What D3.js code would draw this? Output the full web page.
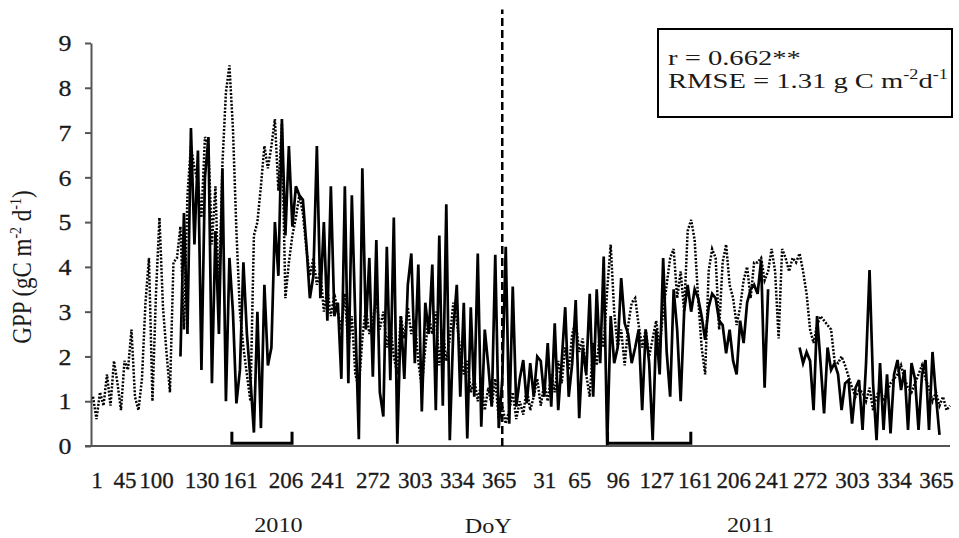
<!DOCTYPE html>
<html>
    <head>
        <title>GPP 2010-2011</title>
        <script src="https://d3js.org/d3.v7.min.js"></script>
        <style>
            body {
                margin: 0;
                background: white;
            }
            #myCanvas {
                display: block;
                background-color: white;
            }
            text {
                font-family: "Liberation Serif", "Times New Roman", serif;
                fill: #1a1a1a;
            }
        </style>
    </head>
    <body>
        <svg id="myCanvas" width="959" height="538"></svg>

        <script>
            // day-of-year labels and the record position they sit on
            var dayLabels = ["1", "45", "100", "130", "161", "206", "241", "272", "303", "334", "365",
                             "31", "65", "96", "127", "161", "206", "241", "272", "303", "334", "365"];
            var labelPos = [1, 9, 18, 31, 42, 55, 67, 80, 92, 104, 116,
                            129, 139, 150, 161, 172, 183, 194, 205, 217, 229, 241];
            var yearNames = ["2010", "2011"];
            var yearPos = [53, 188];
            var yearBreak = 117;          // end of 2010 in the record
            var periods = [[39.7, 56.9], [147.1, 170.9]];
            var yTicks = [0, 1, 2, 3, 4, 5, 6, 7, 8, 9];

            // dotted series
            var gppDotted = [
                1.1, 0.6, 1.2, 0.9, 1.6, 0.9, 1.9, 1.4, 0.8, 1.9,
                1.7, 2.6, 1.1, 0.8, 1.5, 3.2, 4.2, 1.0, 3.4, 5.1,
                3.1, 2.1, 1.2, 4.1, 4.2, 4.9, 2.6, 5.6, 6.7, 6.2,
                5.9, 5.1, 6.9, 6.7, 4.5, 5.8, 3.3, 6.3, 7.9, 8.5,
                7.1, 4.8, 3.0, 2.2, 1.6, 1.0, 4.7, 5.0, 5.8, 6.7,
                6.2, 6.7, 7.3, 5.7, 7.2, 3.3, 4.1, 4.7, 5.1, 5.6,
                5.2, 4.4, 3.8, 4.2, 3.6, 3.9, 3.0, 3.5, 2.9, 3.4,
                3.0, 2.6, 3.4, 2.2, 2.9, 1.6, 1.3, 2.4, 3.1, 2.5,
                2.8, 3.3, 2.6, 3.0, 2.2, 2.7, 2.0, 1.6, 2.9, 2.4,
                3.1, 2.5, 2.8, 1.9, 1.3, 2.2, 2.9, 2.5, 3.0, 1.8,
                2.6, 1.9, 2.4, 3.2, 2.8, 2.1, 1.6, 1.9, 1.2, 1.5,
                1.0, 1.4, 0.8, 1.3, 0.9, 1.5, 0.6, 0.9, 0.5, 0.8,
                1.2, 0.6, 1.0, 0.7, 1.3, 0.8, 1.1, 1.5, 0.9, 1.4,
                1.0, 1.6, 1.2, 1.9, 1.4, 2.2, 1.7, 2.5, 2.8, 2.1,
                2.4, 1.6, 1.1, 2.3, 1.8, 2.6, 2.2, 3.5, 4.5, 3.0,
                2.2, 2.6, 1.8, 2.7, 3.2, 3.3, 2.7, 2.2, 2.6, 2.0,
                2.4, 2.8, 2.2, 3.0, 3.6, 4.2, 4.4, 3.3, 3.9, 3.0,
                4.8, 5.05, 4.6, 3.3, 2.2, 1.6, 3.9, 4.4, 4.2, 2.6,
                4.1, 4.5, 3.6, 3.3, 2.7, 3.1, 3.7, 4.0, 3.3, 4.1,
                4.1, 4.2, 3.7, 3.9, 4.4, 3.9, 2.4, 4.4, 4.2, 3.9,
                4.2, 4.1, 4.3, 3.9, 3.4, 2.6, 2.3, 2.7, 2.9, 2.8,
                2.7, 2.6, 1.9, 1.85, 2.0, 1.8, 1.55, 1.3, 1.1, 1.25,
                1.2, 1.0, 1.3, 0.8, 1.1, 1.3, 1.0, 1.2, 1.4, 1.5,
                1.6, 1.8, 1.5, 1.3, 1.2, 1.4, 1.6, 1.8, 1.5, 1.3,
                1.0, 1.2, 0.9, 1.1, 0.8, 0.9
            ];

            // solid series (null = no data)
            var gppSolid = [
                null, null, null, null, null, null, null, null, null, null,
                null, null, null, null, null, null, null, null, null, null,
                null, null, null, null, null, 2.0, 5.2, 2.5, 7.1, 4.5,
                6.6, 1.7, 6.0, 6.9, 1.4, 4.8, 2.5, 6.2, 1.0, 4.2,
                3.0, 0.95, 1.7, 4.1, 2.5, 1.5, 0.3, 3.0, 0.4, 3.6,
                1.8, 2.2, 5.0, 3.8, 7.3, 4.7, 6.7, 4.9, 5.8, 5.6,
                5.5, 4.5, 3.3, 3.8, 6.7, 3.3, 5.0, 2.8, 5.8, 2.9,
                3.2, 1.5, 5.8, 1.4, 5.6, 2.8, 0.15, 6.2, 2.6, 4.2,
                1.55, 4.6, 1.2, 0.66, 4.45, 1.47, 5.1, 0.05, 2.9, 1.5,
                3.6, 4.3, 1.85, 4.05, 0.77, 3.2, 2.5, 4.05, 0.8, 4.7,
                0.9, 5.4, 0.13, 2.6, 3.6, 1.1, 3.2, 0.17, 3.1, 1.1,
                4.3, 0.43, 2.6, 1.8, 0.88, 4.27, 0.4, 1.5, 4.45, 0.5,
                3.56, 0.88, 1.5, 1.92, 0.95, 1.85, 1.1, 2.0, 1.9, 1.1,
                2.3, 0.88, 2.74, 0.8, 1.9, 3.1, 1.1, 1.85, 3.26, 0.62,
                2.2, 1.6, 3.4, 1.1, 3.5, 1.85, 4.23, 0.02, 2.9, 1.85,
                2.2, 3.75, 2.74, 2.5, 1.85, 2.2, 2.6, 0.8, 2.6, 1.85,
                0.13, 2.6, 1.6, 4.2, 2.1, 1.1, 3.5, 2.6, 1.0, 3.0,
                3.6, 3.0, 3.5, 3.3, 2.9, 2.37, 3.1, 3.4, 3.3, 2.8,
                2.7, 2.07, 2.6, 1.9, 1.6, 2.8, 2.3, 3.2, 3.5, 3.6,
                3.4, 4.15, 1.3, 3.5, null, null, null, null, null, null,
                null, null, 2.2, 1.85, 2.1, 1.9, 0.8, 2.9, 1.85, 0.73,
                2.2, 1.7, 1.85, 1.6, 0.8, 1.4, 1.47, 0.5, 1.3, 1.47,
                0.36, 1.85, 3.93, 1.4, 0.13, 1.85, 0.36, 1.6, 0.28, 1.6,
                1.92, 1.25, 1.7, 0.36, 1.85, 1.5, 0.36, 1.6, 1.92, 0.36,
                2.1, 1.1, 0.25, null, null, null
            ];

            var statLine1 = "r = 0.662**";

            svg = d3.select("#myCanvas");
            w = 959;
            h = 538;

            x = d3.scaleLinear([0, gppDotted.length - 1], [93, 950]);
            y = d3.scaleLinear([0, 9], [446, 43]);

            // y axis
            yAxis = svg.append("g")
                .attr("transform", "translate(91,0)")
                .call(d3.axisLeft(y).tickValues(yTicks).tickSize(6).tickSizeOuter(0).tickPadding(12));
            yAxis.select(".domain").attr("stroke", "#555").attr("stroke-width", 2);
            yAxis.selectAll(".tick line").attr("stroke", "#555").attr("stroke-width", 2);
            yAxis.selectAll(".tick text")
                .attr("font-family", "Liberation Serif")
                .attr("font-size", 24)
                .attr("fill", "#1a1a1a")
                .attr("stroke", "#1a1a1a")
                .attr("stroke-width", 0.3)
                .attr("transform", "scale(1.08,1)");

            // x axis: category labels, no tick marks
            xAxis = svg.append("g")
                .attr("transform", "translate(0,446)")
                .call(d3.axisBottom(x).tickValues(labelPos)
                      .tickFormat((d, i) => dayLabels[i]).tickSize(0));
            xAxis.select(".domain").remove();
            xAxis.selectAll(".tick text")
                .attr("font-family", "Liberation Serif")
                .attr("font-size", 23)
                .attr("fill", "#1a1a1a")
                .attr("stroke", "#1a1a1a")
                .attr("stroke-width", 0.3)
                .attr("y", 42)
                .attr("dy", 0);

            svg.append("line")
                .attr("x1", 85).attr("x2", x.range()[1])
                .attr("y1", y(0)).attr("y2", y(0))
                .attr("stroke", "#555").attr("stroke-width", 2);

            // year labels and DoY
            svg.selectAll(".year")
                .data(yearNames)
                .join("text")
                .attr("class", "year")
                .attr("transform", (d, i) => "translate(" + x(yearPos[i]) + ",532) scale(1.1,1)")
                .attr("text-anchor", "middle")
                .attr("font-size", 22)
                .text(d => d);

            svg.append("text")
                .attr("transform", "translate(" + x(yearBreak - 4) + ",533) scale(1.1,1)")
                .attr("text-anchor", "middle")
                .attr("font-size", 22)
                .text("DoY");

            // y axis title
            yTitle = svg.append("text")
                .attr("transform", "translate(31,267) rotate(-90) scale(1,1.15)")
                .attr("text-anchor", "middle")
                .attr("font-size", 23);
            yTitle.append("tspan").text("GPP (gC m");
            yTitle.append("tspan").attr("font-size", 14).attr("dy", -9).text("-2");
            yTitle.append("tspan").attr("dy", 9).text(" d");
            yTitle.append("tspan").attr("font-size", 14).attr("dy", -9).text("-1");
            yTitle.append("tspan").attr("dy", 9).text(")");

            // year separator
            svg.append("line")
                .attr("x1", x(yearBreak)).attr("x2", x(yearBreak))
                .attr("y1", y(0)).attr("y2", y(9.75))
                .attr("stroke", "black")
                .attr("stroke-width", 2.5)
                .attr("stroke-dasharray", "8,4");

            // series
            line = d3.line()
                .defined(d => d != null)
                .x((d, i) => x(i))
                .y(d => y(d));

            svg.append("path")
                .datum(gppDotted)
                .attr("d", line)
                .attr("fill", "none")
                .attr("stroke", "black")
                .attr("stroke-width", 2.5)
                .attr("stroke-dasharray", "2,1.6");

            svg.append("path")
                .datum(gppSolid)
                .attr("d", line)
                .attr("fill", "none")
                .attr("stroke", "black")
                .attr("stroke-width", 2.7)
                .attr("stroke-linejoin", "miter");

            // period brackets
            svg.selectAll(".period")
                .data(periods)
                .join("path")
                .attr("class", "period")
                .attr("d", d => "M" + x(d[0]) + "," + y(0.32) + "V" + y(0.06) +
                                "H" + x(d[1]) + "V" + y(0.32))
                .attr("fill", "none")
                .attr("stroke", "black")
                .attr("stroke-width", 3);

            // stats box
            svg.append("rect")
                .attr("x", 658).attr("y", 29)
                .attr("width", 294).attr("height", 88)
                .attr("fill", "white")
                .attr("stroke", "black")
                .attr("stroke-width", 2);

            stats = svg.append("g").attr("transform", "translate(668,0) scale(1.3,1)");
            stats.append("text").attr("y", 65).attr("font-size", 22).text(statLine1);
            s2 = stats.append("text").attr("y", 88).attr("font-size", 22);
            s2.append("tspan").text("RMSE = 1.31 g C m");
            s2.append("tspan").attr("font-size", 14).attr("dy", -9).text("-2");
            s2.append("tspan").attr("dy", 9).text("d");
            s2.append("tspan").attr("font-size", 14).attr("dy", -9).text("-1");
        </script>
    </body>
</html>
